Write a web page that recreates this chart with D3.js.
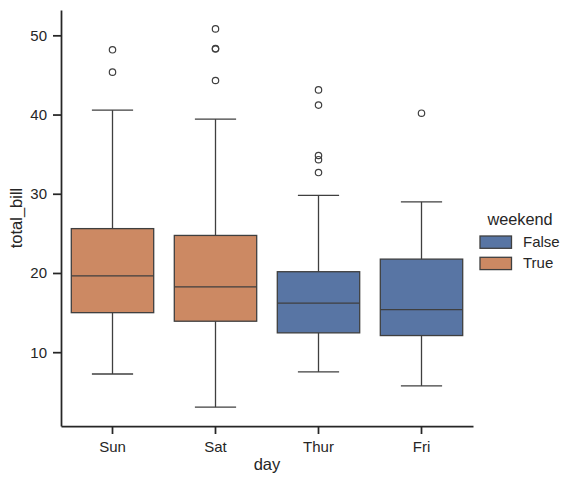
<!DOCTYPE html>
<html>
<head>
<meta charset="utf-8">
<script src="https://cdn.jsdelivr.net/npm/d3@7"></script>
<style>
  body { margin: 0; background: #fff; }
  text { font-family: "Liberation Sans", Arial, sans-serif; fill: #262626; }
</style>
</head>
<body>
<div id="chart"></div>
<script>
// box statistics per day (tips dataset, total_bill)
const days = ["Sun", "Sat", "Thur", "Fri"];
const weekend = [true, true, false, false];
const q1 = [14.99, 13.91, 12.44, 12.10];
const median = [19.63, 18.24, 16.20, 15.38];
const q3 = [25.60, 24.74, 20.16, 21.75];
const whiskerLow = [7.25, 3.07, 7.51, 5.75];
const whiskerHigh = [40.55, 39.42, 29.80, 28.97];
const outliers = [
  [45.35, 48.17],
  [44.30, 48.27, 48.33, 50.81],
  [32.68, 34.30, 34.83, 41.19, 43.11],
  [40.17]
];
const yTicks = [10, 20, 30, 40, 50];
const legendKeys = [false, true];
const legendLabels = ["False", "True"];

const W = 574, H = 484;
const margin = {top: 10, right: 101, bottom: 58, left: 61};
const width = W - margin.left - margin.right;
const height = H - margin.top - margin.bottom;
const ink = "#262626", line = "#3f3f3f";

const color = d3.scaleOrdinal().domain([false, true]).range(["#5875a4", "#cc8963"]);

const svg = d3.select("#chart").append("svg")
    .attr("width", W).attr("height", H);
const g = svg.append("g")
    .attr("transform", "translate(" + margin.left + "," + margin.top + ")");

const x = d3.scaleBand().domain(days).range([0, width]).paddingInner(0.2).paddingOuter(0.1);
// seaborn: 5% margin around data range
const yMin = 3.07, yMax = 50.81, pad = (yMax - yMin) * 0.05;
const y = d3.scaleLinear().domain([yMin - pad, yMax + pad]).range([height, 0]);

const rows = days.map((d, i) => ({
    day: d, wk: weekend[i], q1: q1[i], med: median[i], q3: q3[i],
    lo: whiskerLow[i], hi: whiskerHigh[i], out: outliers[i]
}));

const bw = x.bandwidth();
const boxes = g.selectAll(".box").data(rows).enter().append("g")
    .attr("transform", d => "translate(" + x(d.day) + ",0)");

// whiskers
boxes.append("line").attr("x1", bw / 2).attr("x2", bw / 2)
    .attr("y1", d => y(d.q3)).attr("y2", d => y(d.hi))
    .attr("stroke", line).attr("stroke-width", 1.3);
boxes.append("line").attr("x1", bw / 2).attr("x2", bw / 2)
    .attr("y1", d => y(d.q1)).attr("y2", d => y(d.lo))
    .attr("stroke", line).attr("stroke-width", 1.3);
boxes.selectAll(".cap").data(d => [d.lo, d.hi]).enter().append("line")
    .attr("x1", bw * 0.25).attr("x2", bw * 0.75)
    .attr("y1", v => y(v)).attr("y2", v => y(v))
    .attr("stroke", line).attr("stroke-width", 1.3);

// boxes
boxes.append("rect")
    .attr("x", 0).attr("width", bw)
    .attr("y", d => y(d.q3)).attr("height", d => y(d.q1) - y(d.q3))
    .attr("fill", d => color(d.wk)).attr("stroke", line).attr("stroke-width", 1.3);
boxes.append("line").attr("x1", 0).attr("x2", bw)
    .attr("y1", d => y(d.med)).attr("y2", d => y(d.med))
    .attr("stroke", line).attr("stroke-width", 1.3);

// fliers
boxes.selectAll(".flier").data(d => d.out).enter().append("circle")
    .attr("cx", bw / 2).attr("cy", v => y(v)).attr("r", 3.2)
    .attr("fill", "none").attr("stroke", line).attr("stroke-width", 1.2);

// axes
const xAxis = g.append("g").attr("transform", "translate(0," + height + ")")
    .call(d3.axisBottom(x).tickSize(8).tickSizeOuter(0).tickPadding(7));
const yAxis = g.append("g")
    .call(d3.axisLeft(y).tickValues(yTicks).tickSize(8).tickSizeOuter(0).tickPadding(6));
[xAxis, yAxis].forEach(a => {
    a.select(".domain").attr("stroke", ink).attr("stroke-width", 1.75);
    a.selectAll(".tick line").attr("stroke", ink).attr("stroke-width", 1.75);
    a.selectAll(".tick text").attr("font-size", 15).attr("fill", ink)
        .style("font-family", "'Liberation Sans', Arial, sans-serif");
});

// axis labels
g.append("text").attr("x", width / 2).attr("y", height + 44)
    .attr("text-anchor", "middle").attr("font-size", 16.5).text("day");
g.append("text").attr("transform", "translate(" + (-39) + "," + (height / 2) + ") rotate(-90)")
    .attr("text-anchor", "middle").attr("font-size", 16.5).text("total_bill");

// legend
const lg = svg.append("g").attr("transform", "translate(480,225)");
lg.append("text").attr("x", 40).attr("y", 0).attr("text-anchor", "middle")
    .attr("font-size", 16.3).text("weekend");
const items = lg.selectAll(".item").data(legendKeys).enter().append("g")
    .attr("transform", (d, i) => "translate(0," + (11 + i * 21.3) + ")");
items.append("rect").attr("width", 31.5).attr("height", 12.3)
    .attr("fill", d => color(d)).attr("stroke", line).attr("stroke-width", 1.3);
items.append("text").attr("x", 43).attr("y", 11).attr("font-size", 15)
    .text((d, i) => legendLabels[i]);
</script>
</body>
</html>
